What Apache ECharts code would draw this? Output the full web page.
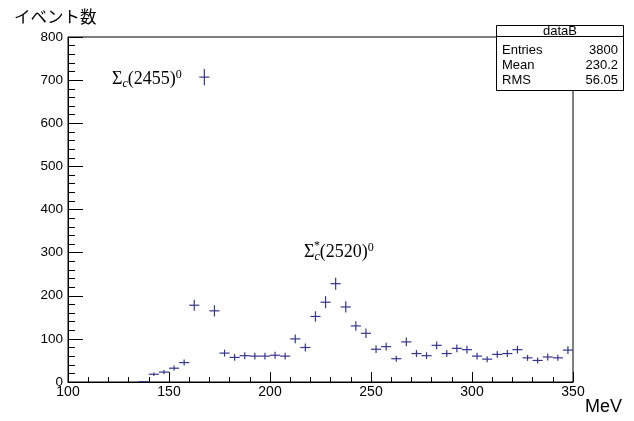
<!DOCTYPE html>
<html>
<head>
<meta charset="utf-8">
<title>dataB</title>
<script src="https://cdn.jsdelivr.net/npm/echarts@6/dist/echarts.min.js"></script>
<style>
    html, body { margin: 0; padding: 0; background: #fff; }
    #main { width: 634px; height: 421px; }
</style>
</head>
<body>
<div id="main"></div>
<script>
//ビン中心 (MeV)
var binCenters = [137.5, 142.5, 147.5, 152.5, 157.5, 162.5, 167.5, 172.5, 177.5, 182.5,
    187.5, 192.5, 197.5, 202.5, 207.5, 212.5, 217.5, 222.5, 227.5, 232.5,
    237.5, 242.5, 247.5, 252.5, 257.5, 262.5, 267.5, 272.5, 277.5, 282.5,
    287.5, 292.5, 297.5, 302.5, 307.5, 312.5, 317.5, 322.5, 327.5, 332.5,
    337.5, 342.5, 347.5];
//イベント数
var counts = [1, 18, 23, 32, 45, 178, 707, 165, 67, 57,
    61, 60, 60, 62, 60, 100, 80, 152, 185, 228,
    174, 130, 113, 76, 82, 54, 93, 66, 61, 85,
    66, 78, 75, 60, 53, 64, 66, 75, 56, 50,
    58, 56, 74];
//誤差
var errors = [1, 4, 5, 6, 7, 13, 19, 13, 8, 8,
    8, 8, 8, 8, 8, 10, 9, 12, 14, 14,
    13, 11, 11, 9, 9, 7, 10, 8, 8, 9,
    8, 9, 9, 8, 7, 8, 8, 9, 7, 7,
    8, 7, 9];
var xTicks = [100, 150, 200, 250, 300, 350];
var yTicks = [0, 100, 200, 300, 400, 500, 600, 700, 800];

var binWidth = 5;
var markColor = '#36368f';
var sansFont = '"Liberation Sans", Arial, Helvetica, sans-serif';
var serifFont = '"Liberation Serif", "Times New Roman", serif';

var data = [];
for (var i = 0; i < binCenters.length; i++) {
    data.push([binCenters[i], counts[i], errors[i]]);
}

//十字 (誤差棒) を描く
function renderCross(params, api) {
    var x = api.value(0), y = api.value(1), e = api.value(2);
    var c = api.coord([x, y]);
    var l = api.coord([x - binWidth / 2, y]);
    var r = api.coord([x + binWidth / 2, y]);
    var t = api.coord([x, y + e]);
    var b = api.coord([x, Math.max(0, y - e)]);
    var st = { stroke: markColor, lineWidth: 1.2 };
    return {
        type: 'group',
        children: [
            { type: 'line', shape: { x1: l[0], y1: c[1], x2: r[0], y2: c[1] }, style: st },
            { type: 'line', shape: { x1: c[0], y1: t[1], x2: c[0], y2: b[1] }, style: st }
        ]
    };
}

//ラベル用リッチテキスト
var labelRich = {
    m: { fontSize: 18, fontFamily: serifFont, lineHeight: 21 },
    s: { fontSize: 12, fontFamily: serifFont, fontStyle: 'italic', verticalAlign: 'bottom', lineHeight: 21 },
    p: { fontSize: 12, fontFamily: serifFont, verticalAlign: 'top', lineHeight: 19 }
};

var chart = echarts.init(document.getElementById('main'), null, { renderer: 'canvas' });
chart.setOption({
    animation: false,
    backgroundColor: '#fff',
    grid: {
        left: 68,
        right: 61,
        top: 37,
        bottom: 39,
        show: true,
        borderColor: '#000',
        borderWidth: 1,
        backgroundColor: 'transparent'
    },
    xAxis: {
        type: 'value',
        min: xTicks[0],
        max: xTicks[xTicks.length - 1],
        interval: 50,
        axisLine: { lineStyle: { color: '#000', width: 1 } },
        axisTick: { inside: true, length: 10, lineStyle: { color: '#000' } },
        minorTick: { show: true, splitNumber: 5, length: 5, lineStyle: { color: '#000' } },
        splitLine: { show: false },
        axisLabel: { color: '#000', fontSize: 14, fontFamily: sansFont, margin: 3 }
    },
    yAxis: {
        type: 'value',
        min: yTicks[0],
        max: yTicks[yTicks.length - 1],
        interval: 100,
        axisLine: { show: true, lineStyle: { color: '#000', width: 1 } },
        axisTick: { show: true, inside: true, length: 15, lineStyle: { color: '#000' } },
        minorTick: { show: true, splitNumber: 5, length: 7, lineStyle: { color: '#000' } },
        splitLine: { show: false },
        axisLabel: { color: '#000', fontSize: 13.5, fontFamily: sansFont, margin: 5 }
    },
    series: [
        {
            type: 'custom',
            renderItem: renderCross,
            encode: { x: 0, y: 1 },
            data: data,
            clip: false
        }
    ],
    graphic: [
        //軸タイトル
        {
            type: 'text', left: 14, top: 8,
            style: { text: 'イベント数', fontSize: 16.5, fill: '#000', fontFamily: '"Noto Sans CJK JP", sans-serif' }
        },
        {
            type: 'text', right: 12, top: 398,
            style: { text: 'MeV', fontSize: 18, fill: '#000', fontFamily: sansFont }
        },
        //統計ボックス
        {
            type: 'rect', z: 10,
            shape: { x: 496.5, y: 25.5, width: 127, height: 65 },
            style: { fill: '#fff', stroke: '#000', lineWidth: 1 }
        },
        {
            type: 'line', z: 11,
            shape: { x1: 496.5, y1: 36.5, x2: 623.5, y2: 36.5 },
            style: { stroke: '#000', lineWidth: 1 }
        },
        {
            type: 'text', z: 11, x: 560, y: 31,
            style: { text: 'dataB', fontSize: 13, fill: '#000', fontFamily: sansFont, align: 'center', verticalAlign: 'middle' }
        },
        {
            type: 'text', z: 11, x: 502, y: 50,
            style: { text: 'Entries', fontSize: 13, fill: '#000', fontFamily: sansFont, verticalAlign: 'middle' }
        },
        {
            type: 'text', z: 11, x: 618, y: 50,
            style: { text: '3800', fontSize: 13, fill: '#000', fontFamily: sansFont, align: 'right', verticalAlign: 'middle' }
        },
        {
            type: 'text', z: 11, x: 502, y: 65,
            style: { text: 'Mean', fontSize: 13, fill: '#000', fontFamily: sansFont, verticalAlign: 'middle' }
        },
        {
            type: 'text', z: 11, x: 618, y: 65,
            style: { text: '230.2', fontSize: 13, fill: '#000', fontFamily: sansFont, align: 'right', verticalAlign: 'middle' }
        },
        {
            type: 'text', z: 11, x: 502, y: 80,
            style: { text: 'RMS', fontSize: 13, fill: '#000', fontFamily: sansFont, verticalAlign: 'middle' }
        },
        {
            type: 'text', z: 11, x: 618, y: 80,
            style: { text: '56.05', fontSize: 13, fill: '#000', fontFamily: sansFont, align: 'right', verticalAlign: 'middle' }
        },
        //粒子名ラベル
        {
            type: 'text', x: 112, y: 79,
            style: { text: '{m|Σ}{s|c}{m|(2455)}{p|0}', verticalAlign: 'middle', fill: '#000', rich: labelRich }
        },
        {
            type: 'text', x: 304, y: 252,
            style: { text: '{m|Σ}{s|c}{m|(2520)}{p|0}', verticalAlign: 'middle', fill: '#000', rich: labelRich }
        },
        {
            type: 'text', x: 314, y: 246,
            style: { text: '*', fontSize: 12, fill: '#000', fontFamily: serifFont, verticalAlign: 'middle' }
        }
    ]
});
</script>
</body>
</html>
